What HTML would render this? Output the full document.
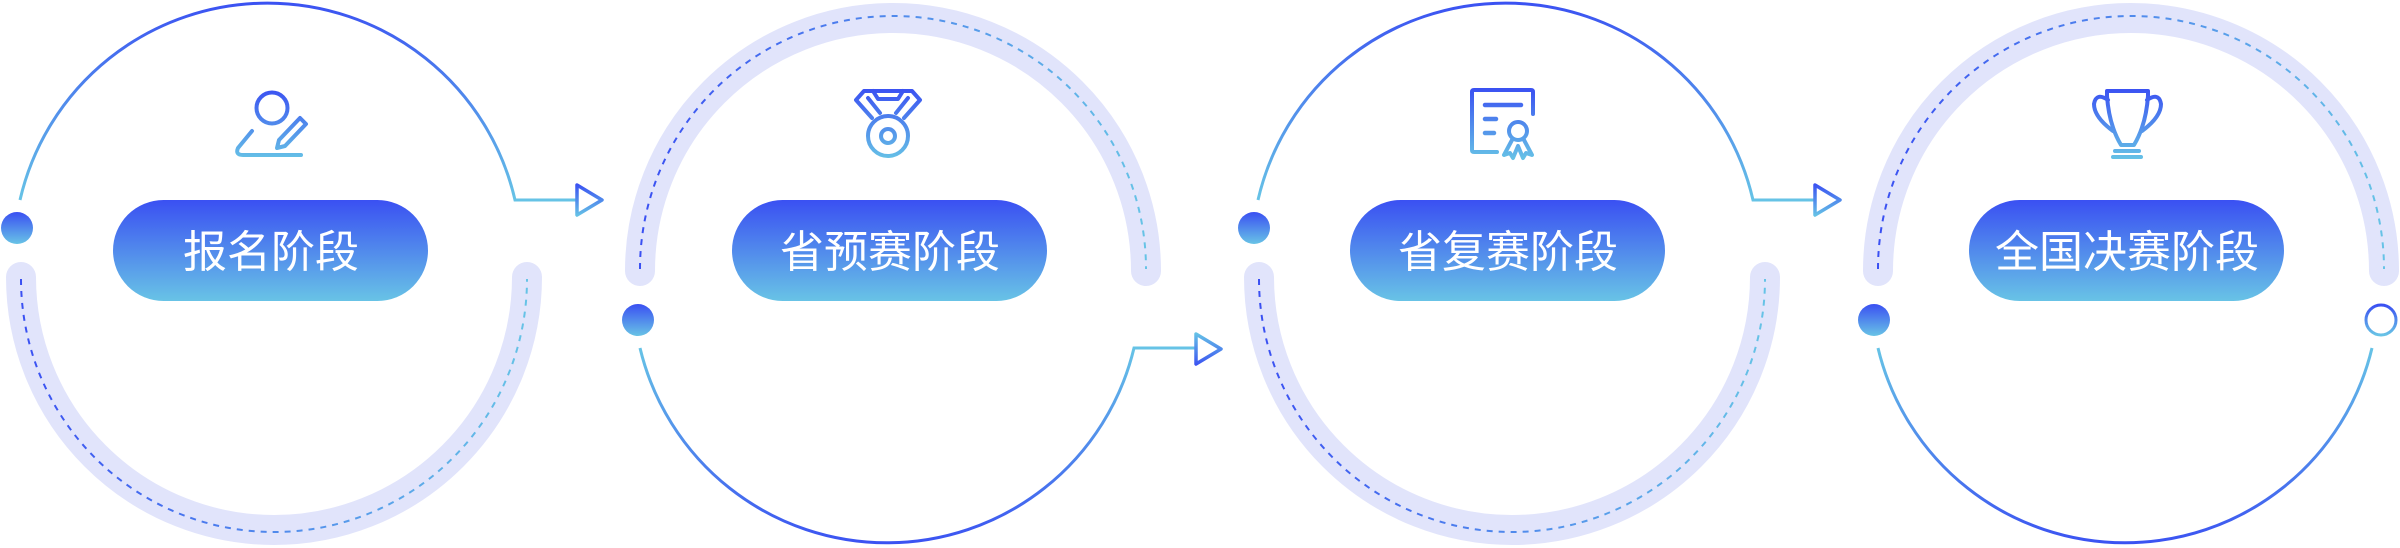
<!DOCTYPE html>
<html><head><meta charset="utf-8"><style>
html,body{margin:0;padding:0;background:#fff;}
svg{display:block;}
text{font-family:"Liberation Sans","Noto Sans CJK SC",sans-serif;}
</style></head><body>
<svg width="2400" height="548" viewBox="0 0 2400 548" xmlns="http://www.w3.org/2000/svg">
<defs>
<linearGradient id="gTop" gradientUnits="userSpaceOnUse" x1="0" y1="0" x2="0" y2="200"><stop offset="0" stop-color="#3a50f2"/><stop offset="1" stop-color="#66c3e6"/></linearGradient>
<linearGradient id="gBot" gradientUnits="userSpaceOnUse" x1="0" y1="548" x2="0" y2="348"><stop offset="0" stop-color="#3a50f2"/><stop offset="1" stop-color="#66c3e6"/></linearGradient>
<linearGradient id="gA1" gradientUnits="userSpaceOnUse" x1="0" y1="184" x2="0" y2="216"><stop offset="0" stop-color="#3a50f2"/><stop offset="1" stop-color="#66c3e6"/></linearGradient>
<linearGradient id="gA2" gradientUnits="userSpaceOnUse" x1="0" y1="333" x2="0" y2="366"><stop offset="0" stop-color="#66c3e6"/><stop offset="1" stop-color="#3a50f2"/></linearGradient>
<linearGradient id="gV" x1="0" y1="0" x2="0" y2="1"><stop offset="0" stop-color="#3a50f2"/><stop offset="1" stop-color="#68c3e6"/></linearGradient>
<linearGradient id="gH" x1="0" y1="0" x2="1" y2="0"><stop offset="0" stop-color="#3a50f2"/><stop offset="1" stop-color="#66c3e6"/></linearGradient>
<linearGradient id="gI" gradientUnits="userSpaceOnUse" x1="0" y1="88" x2="0" y2="160"><stop offset="0" stop-color="#3a50f2"/><stop offset="1" stop-color="#66c3e6"/></linearGradient>
</defs>

<g fill="none" stroke="#e1e4fb" stroke-width="30" stroke-linecap="round">
<path d="M21,277 A253,253 0 0 0 527,277"/>
<path d="M640,271 A253,253 0 0 1 1146,271"/>
<path d="M1259,277 A253,253 0 0 0 1765,277"/>
<path d="M1878,271 A253,253 0 0 1 2384,271"/>
</g>
<g fill="none" stroke="url(#gH)" stroke-width="2" stroke-dasharray="6 6">
<path d="M21,279 A253,253 0 0 0 527,279"/>
<path d="M640,269 A253,253 0 0 1 1146,269"/>
<path d="M1259,279 A253,253 0 0 0 1765,279"/>
<path d="M1878,269 A253,253 0 0 1 2384,269"/>
</g>

<g fill="none" stroke-width="3">
<path d="M20,200 A254,254 0 0 1 515,200 H577" stroke="url(#gTop)"/>
<path d="M640,348 A254,254 0 0 0 1134,348 H1196" stroke="url(#gBot)"/>
<path d="M1258,200 A254,254 0 0 1 1753,200 H1815" stroke="url(#gTop)"/>
<path d="M1878,348 A254,254 0 0 0 2372,348" stroke="url(#gBot)"/>
</g>
<g fill="none" stroke-width="3.5" stroke-linejoin="round">
<path d="M577,185 L602,200 L577,215 Z" stroke="url(#gA1)"/>
<path d="M1196,334 L1221,349 L1196,364 Z" stroke="url(#gA2)"/>
<path d="M1815,185 L1840,200 L1815,215 Z" stroke="url(#gA1)"/>
</g>

<circle cx="17" cy="228" r="16" fill="url(#gV)"/>
<circle cx="638" cy="320" r="16" fill="url(#gV)"/>
<circle cx="1254" cy="228" r="16" fill="url(#gV)"/>
<circle cx="1874" cy="320" r="16" fill="url(#gV)"/>
<circle cx="2381" cy="320" r="15" fill="none" stroke="url(#gV)" stroke-width="3"/>

<rect x="113" y="200" width="315" height="101" rx="50.5" fill="url(#gV)"/>
<rect x="732" y="200" width="315" height="101" rx="50.5" fill="url(#gV)"/>
<rect x="1350" y="200" width="315" height="101" rx="50.5" fill="url(#gV)"/>
<rect x="1969" y="200" width="315" height="101" rx="50.5" fill="url(#gV)"/>
<g fill="#fff" font-size="44" text-anchor="middle">
<text x="271" y="267">报名阶段</text>
<text x="890" y="267">省预赛阶段</text>
<text x="1508" y="267">省复赛阶段</text>
<text x="2127" y="267">全国决赛阶段</text>
</g>

<g fill="none" stroke="url(#gI)" stroke-width="4" stroke-linecap="round" stroke-linejoin="round">
<circle cx="272" cy="108" r="15.5"/>
<path d="M252,131 L238,148 Q235,155 243,155 L301,155"/>
<path d="M300,118 L306,124 L285,146 L277,148 L279,140 Z"/>
<path d="M872,118 L856,100 L864,91 H912 L920,100 L904,118"/>
<path d="M868,98 L880,113 M908,98 L896,113 M873,91 L878,99 H898 L903,91"/>
<circle cx="888" cy="136" r="20"/>
<circle cx="888" cy="136" r="7"/>
<path d="M1497,152 H1474 Q1472,152 1472,150 V92 Q1472,90 1474,90 H1531 Q1533,90 1533,92 V114"/>
<path d="M1485,105 H1521 M1485,119 H1496 M1485,133 H1494" stroke-width="4.5"/>
<circle cx="1518" cy="131" r="9"/>
<path d="M1512,140 L1504,155 L1510,153 L1513,158 L1518,146 L1523,158 L1526,153 L1532,155 L1524,140"/>
<path d="M2107,91 H2148 V96 Q2146,125 2134,145 H2121 Q2109,125 2107,96 Z"/>
<path d="M2108,100 Q2096,92 2094,104 Q2094,117 2113,131"/>
<path d="M2147,100 Q2159,92 2161,104 Q2161,117 2142,131"/>
<path d="M2115,151 H2139 M2113,157 H2141"/>
</g>
</svg>
</body></html>
